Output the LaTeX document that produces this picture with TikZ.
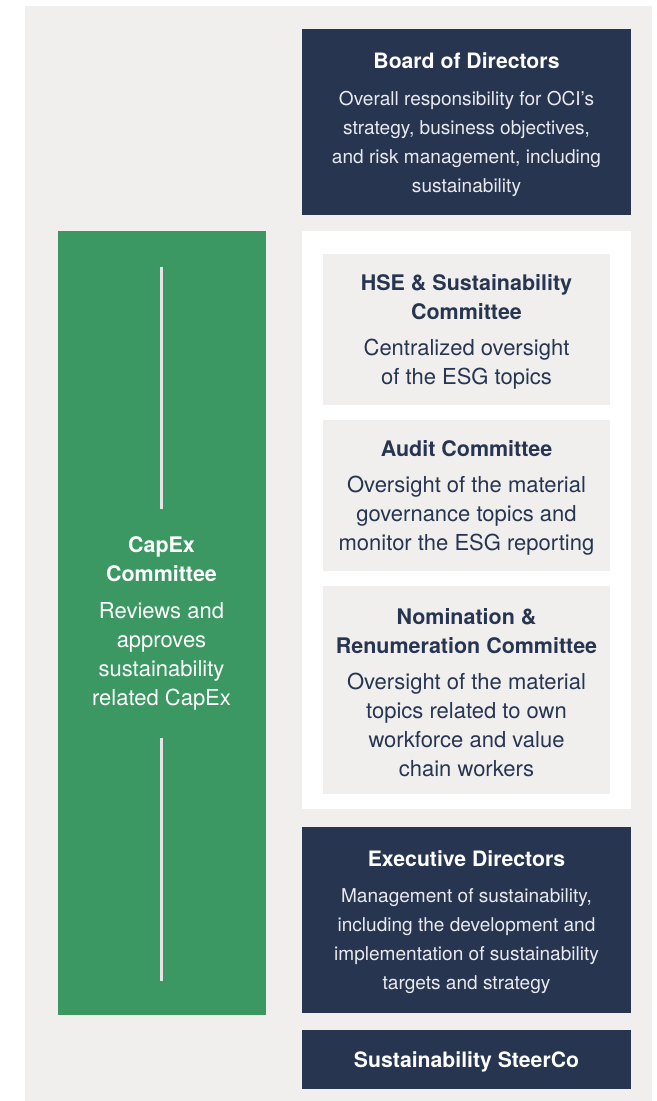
\documentclass[tikz,border=0pt]{standalone}
\usepackage{fontspec}
\setmainfont{TeX Gyre Heros}
\usetikzlibrary{fit}
\definecolor{navy}{HTML}{273551}
\definecolor{panel}{HTML}{F0EFED}
\definecolor{capgreen}{HTML}{3B9862}
\definecolor{softwhite}{HTML}{E9EAEE}
\definecolor{rule}{HTML}{E4E4E4}
\tikzset{
  box/.style={inner sep=0pt, outer sep=0pt, draw=none},
  navybox/.style={box, fill=navy},
  whitebox/.style={box, fill=white},
  graybox/.style={box, fill=panel},
  greenbox/.style={box, fill=capgreen},
  txt/.style={align=center, inner sep=0pt, yshift=-1.9pt, font=\fontsize{12pt}{21.75pt}\selectfont},
  divider/.style={draw=rule, line width=1.9pt},
}
\newcommand{\ttl}[1]{{\fontsize{15.9pt}{21.75pt}\selectfont\bfseries #1}}
\newcommand{\ctl}[1]{{\fontsize{16.1pt}{21.75pt}\selectfont\bfseries #1}}
\newcommand{\bsm}{\fontsize{14.3pt}{21.75pt}\selectfont}
\newcommand{\blg}{\fontsize{16.5pt}{21.75pt}\selectfont}
\begin{document}
\begin{tikzpicture}[x=0.75pt,y=-0.75pt]
\useasboundingbox (0,0) rectangle (657,1101);
\fill[white] (0,0) rectangle (657,1101);
\node[graybox, fit={(25,6)(652,1101)}] (panel) {};
% right column
\node[navybox, fit={(302,29)(631,215)}] (board) {};
\node[whitebox, fit={(302,231)(631,809)}] (comm) {};
\node[graybox, fit={(323,254)(610,405)}] (hse) {};
\node[graybox, fit={(323,420)(610,571)}] (audit) {};
\node[graybox, fit={(323,586)(610,794)}] (nom) {};
\node[navybox, fit={(302,827)(631,1013)}] (exec) {};
\node[navybox, fit={(302,1030)(631,1089)}] (steer) {};
% left column
\node[greenbox, fit={(58,231)(266,1015)}] (capex) {};
\coordinate (l1a) at (161.5,267);
\coordinate (l1b) at (161.5,509);
\coordinate (l2a) at (161.5,738);
\coordinate (l2b) at (161.5,981);
\draw[divider] (l1a) -- (l1b);
\draw[divider] (l2a) -- (l2b);
% texts
\node[txt, text=white] (boardtxt) at (board.center) {\ttl{Board of Directors}\\[5.8pt]
  {\color{softwhite}\bsm Overall responsibility for OCI's}\\
  {\color{softwhite}\bsm strategy, business objectives,}\\
  {\color{softwhite}\bsm and risk management, including}\\
  {\color{softwhite}\bsm sustainability}};
\node[txt, text=navy] (hsetxt) at (hse.center) {\ctl{HSE \& Sustainability}\\
  \ctl{Committee}\\[5.25pt]
  {\blg Centralized oversight}\\
  {\blg of the ESG topics}};
\node[txt, text=navy] (audittxt) at (audit.center) {\ctl{Audit Committee}\\[5.5pt]
  {\blg Oversight of the material}\\
  {\blg governance topics and}\\
  {\blg monitor the ESG reporting}};
\node[txt, text=navy] (nomtxt) at (nom.center) {\ctl{Nomination \&}\\
  \ctl{Renumeration Committee}\\[5.25pt]
  {\blg Oversight of the material}\\
  {\blg topics related to own}\\
  {\blg workforce and value}\\
  {\blg chain workers}};
\node[txt, text=white] (exectxt) at (exec.center) {\ttl{Executive Directors}\\[5.25pt]
  {\color{softwhite}\bsm Management of sustainability,}\\
  {\color{softwhite}\bsm including the development and}\\
  {\color{softwhite}\bsm implementation of sustainability}\\
  {\color{softwhite}\bsm targets and strategy}};
\node[txt, text=white] (steertxt) at (steer.center) {\ttl{Sustainability SteerCo}};
\node[txt, text=white] (capextxt) at (161.5,621) {\ctl{CapEx}\\
  \ctl{Committee}\\[5.5pt]
  {\blg Reviews and}\\
  {\blg approves}\\
  {\blg sustainability}\\
  {\blg related CapEx}};
\end{tikzpicture}
\end{document}
